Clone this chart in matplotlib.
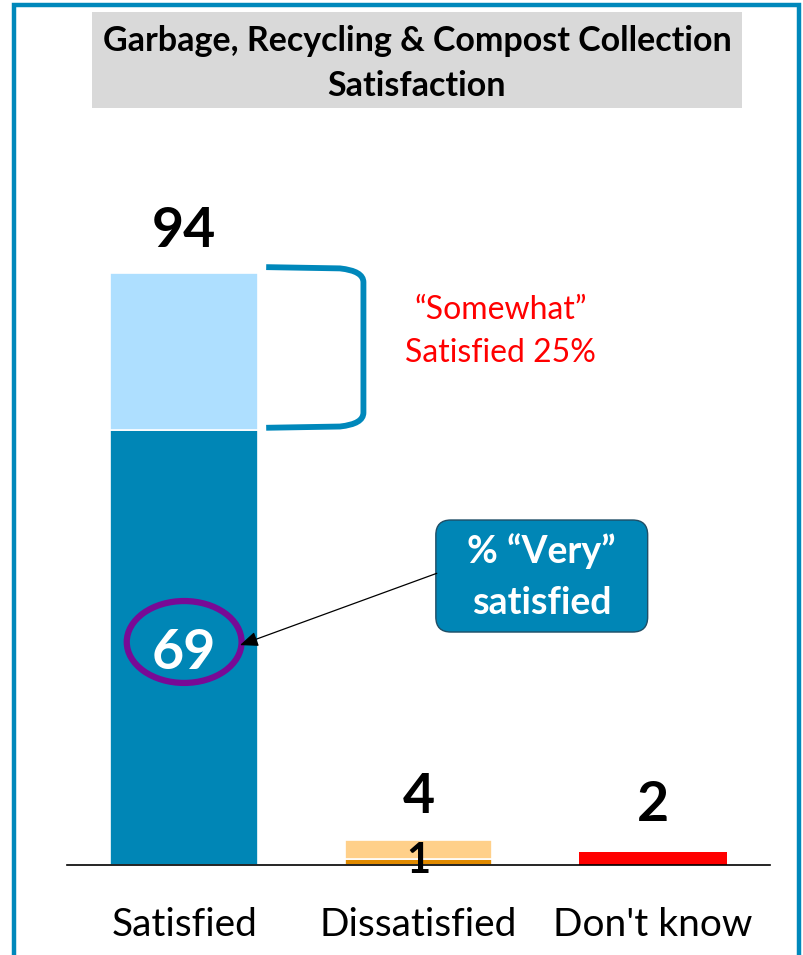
import matplotlib
matplotlib.use("Agg")
import matplotlib.pyplot as plt
from matplotlib.patches import Rectangle, Ellipse, FancyBboxPatch, PathPatch
from matplotlib.path import Path

plt.rcParams['font.family'] = ['Lato', 'DejaVu Sans']

categories = ["Satisfied", "Dissatisfied", "Don't know"]
strong = [69, 1, 0]        # "Very" satisfied / "Very" dissatisfied
somewhat = [25, 3, 0]      # "Somewhat"
dont_know = [0, 0, 2]
totals = [94, 4, 2]

c_dark = ["#0086B6", "#E08A00", "#FF0000"]
c_light = ["#AEDFFF", "#FFD08A", "#FF0000"]

W, H = 804, 955
fig = plt.figure(figsize=(W / 100, H / 100), dpi=100)

def fx(px):
    return px / W

def fy(py):
    return 1 - py / H

# outer border
fig.patches.append(Rectangle((fx(14), fy(975)), fx(785), 970 / H, transform=fig.transFigure,
                             fill=False, edgecolor="#0088BB", linewidth=3.2, zorder=0))
# title box
fig.patches.append(Rectangle((fx(92), fy(108)), fx(650), 96 / H, transform=fig.transFigure,
                             facecolor="#D9D9D9", edgecolor="none", zorder=1))
fig.text(fx(417), fy(41), "Garbage, Recycling & Compost Collection", ha="center", va="center",
         fontsize=24.5, fontweight="bold", color="black")
fig.text(fx(417), fy(86), "Satisfaction", ha="center", va="center",
         fontsize=24.5, fontweight="bold", color="black")

ax = fig.add_axes([fx(67), fy(865), fx(770) - fx(67), 630 / H])
ax.set_xlim(-0.5, 2.5)
ax.set_ylim(0, 100)
x = list(range(len(categories)))
bw = 0.63
for i in x:
    if strong[i]:
        ax.bar(i, strong[i], width=bw, color=c_dark[i], edgecolor="white", linewidth=1.2)
    if somewhat[i]:
        ax.bar(i, somewhat[i], bottom=strong[i], width=bw, color=c_light[i], edgecolor="white", linewidth=1.2)
    if dont_know[i]:
        ax.bar(i, dont_know[i], width=bw, color=c_dark[i], edgecolor="none")

for s in ["top", "right", "left"]:
    ax.spines[s].set_visible(False)
ax.spines["bottom"].set_linewidth(1.2)
ax.set_yticks([])
ax.set_xticks(x)
ax.set_xticklabels(categories, fontsize=28)
ax.tick_params(axis="x", length=0, pad=30)

# total labels
ax.text(0, totals[0] + 6.6, str(totals[0]), ha="center", va="center", fontsize=40, fontweight="bold")
ax.text(1, totals[1] + 6.8, str(totals[1]), ha="center", va="center", fontsize=40, fontweight="bold")
ax.text(2, totals[2] + 7.6, str(totals[2]), ha="center", va="center", fontsize=40, fontweight="bold")
ax.text(1, 0.6, str(strong[1]), ha="center", va="center", fontsize=30, fontweight="bold", clip_on=False)

# 69 with ellipse
ax.text(0, 33.7, str(strong[0]), ha="center", va="center", fontsize=40, fontweight="bold", color="white")
ax.add_patch(Ellipse((0.0, 35.4), 0.49, 13.0, fill=False, edgecolor="#780A96", linewidth=4.5, zorder=5))

# bracket
x0, x1, yt, yb = 0.35, 0.765, 94.9, 69.4
verts = [(x0, yt), (x1 - 0.1, yt - 0.2), (x1, yt - 0.6), (x1, yt - 2.4),
         (x1, yb + 2.4), (x1, yb + 0.6), (x1 - 0.1, yb + 0.2), (x0, yb)]
codes = [Path.MOVETO, Path.LINETO, Path.CURVE3, Path.CURVE3,
         Path.LINETO, Path.CURVE3, Path.CURVE3, Path.LINETO]
ax.add_patch(PathPatch(Path(verts, codes), fill=False, edgecolor="#0088BB", linewidth=4.2,
                       capstyle="butt", joinstyle="round", clip_on=False))

ax.text(1.35, 88.1, "\u201cSomewhat\u201d", ha="center", va="center", fontsize=23, color="#FF0000")
ax.text(1.35, 81.3, "Satisfied 25%", ha="center", va="center", fontsize=23, color="#FF0000")

# callout box
bx0, bx1, by0, by1 = 1.074, 1.978, 36.98, 54.76
ax.add_patch(FancyBboxPatch((bx0, by0), bx1 - bx0, by1 - by0,
                            boxstyle="round,pad=0,rounding_size=0.064", mutation_aspect=37.2,
                            facecolor="#0086B6", edgecolor="#1F4E66", linewidth=1.0, zorder=4))
ax.text((bx0 + bx1) / 2, 49.8, "% \u201cVery\u201d", ha="center", va="center", fontsize=27,
        fontweight="bold", color="white", zorder=6)
ax.text((bx0 + bx1) / 2, 41.6, "satisfied", ha="center", va="center", fontsize=27,
        fontweight="bold", color="white", zorder=6)
ax.annotate("", xy=(0.238, 34.9), xytext=(1.078, 46.3),
            arrowprops=dict(arrowstyle="-|>,head_length=1.1,head_width=0.45", color="black",
                            linewidth=0.9, shrinkA=0, shrinkB=0), zorder=7)

fig.savefig("out.png", dpi=100)
